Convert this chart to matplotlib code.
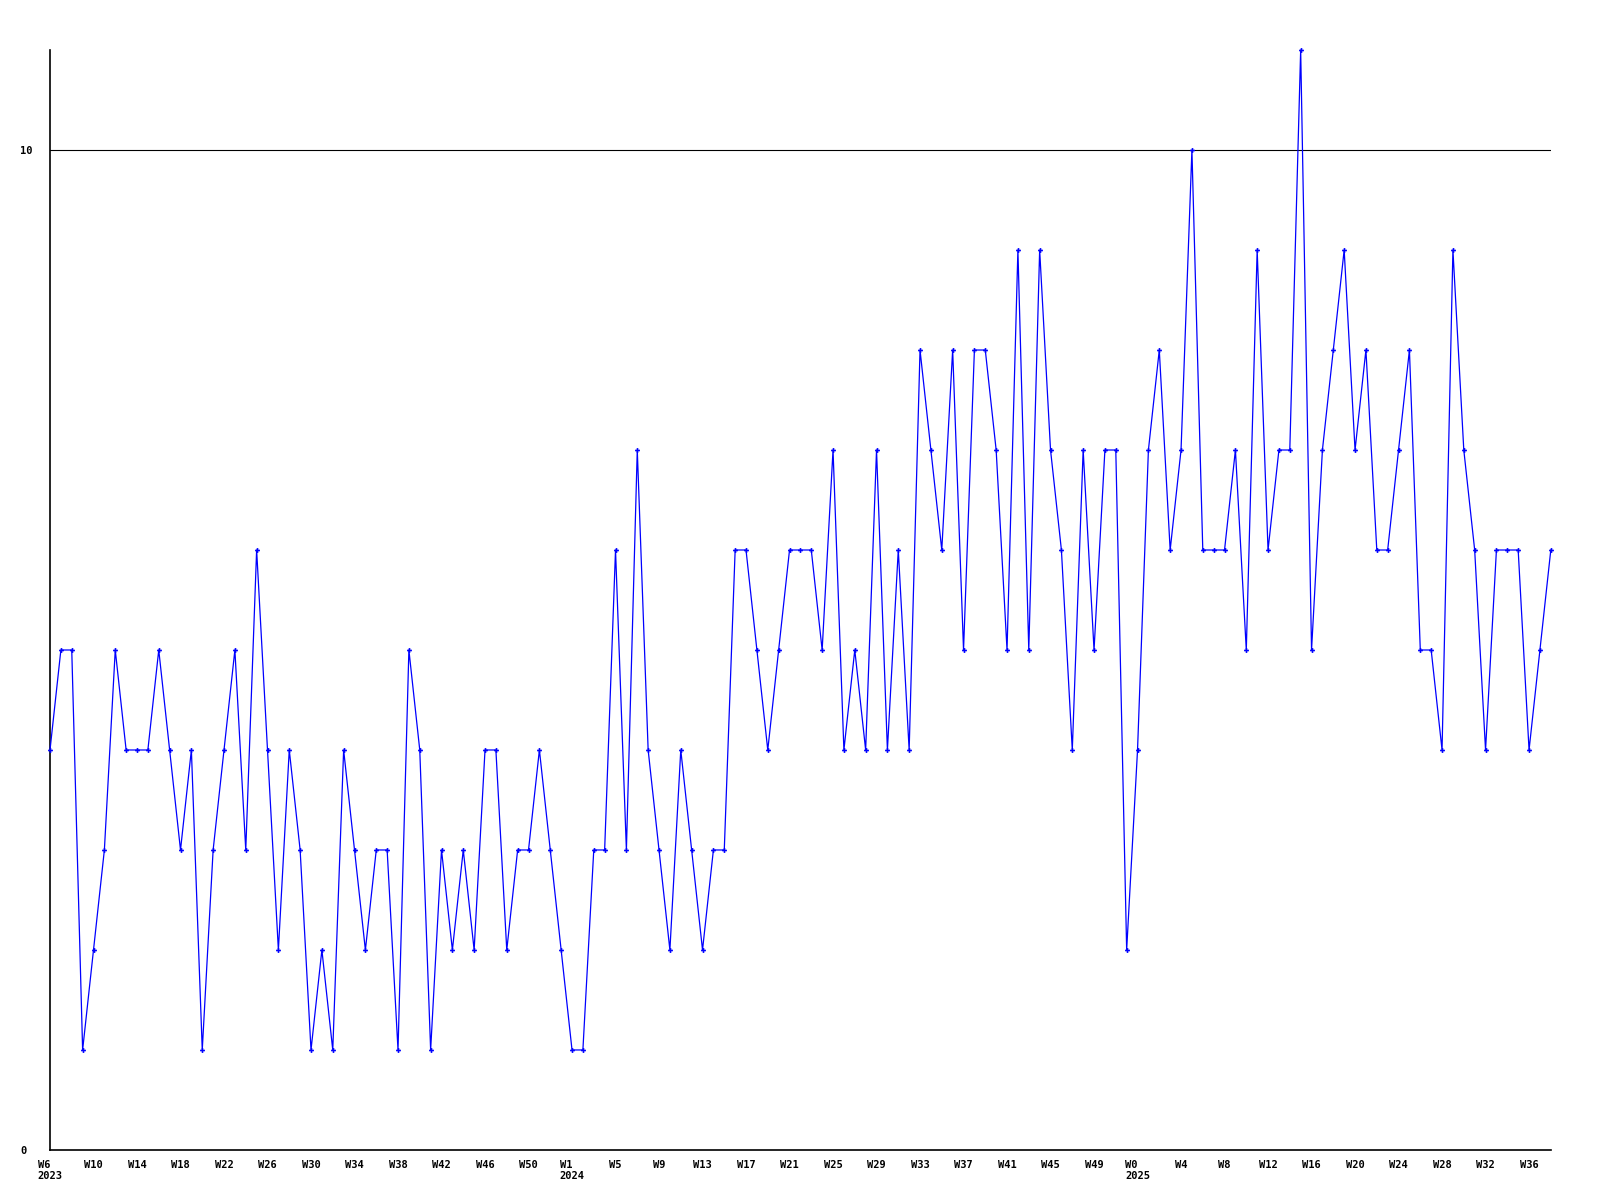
import numpy as np
import matplotlib
matplotlib.use('Agg')
import matplotlib.pyplot as plt

# weekly counts, W6 2023 .. W38 2025 (one value per point)
counts_2023 = [4, 5, 5, 1, 2, 3, 5, 4, 4, 4, 5, 4, 3, 4, 1, 3, 4, 5, 3, 6,
               4, 2, 4, 3, 1, 2, 1, 4, 3, 2, 3, 3, 1, 5, 4, 1, 3, 2, 3, 2,
               4, 4, 2, 3, 3, 4, 3, 2]
counts_2024 = [1, 1, 3, 3, 6, 3, 7, 4, 3, 2, 4, 3, 2, 3, 3, 6, 6, 5, 4, 5,
               6, 6, 6, 5, 7, 4, 5, 4, 7, 4, 6, 4, 8, 7, 6, 8, 5, 8, 8, 7,
               5, 9, 5, 9, 7, 6, 4, 7, 5, 7, 7]
counts_2025 = [2, 4, 7, 8, 6, 7, 10, 6, 6, 6, 7, 5, 9, 6, 7, 7, 11, 5, 7, 8,
               9, 7, 8, 6, 6, 7, 8, 5, 5, 4, 9, 7, 6, 4, 6, 6, 6, 4, 5, 6]
values = counts_2023 + counts_2024 + counts_2025

tick_labels = ['W6\n2023', 'W10', 'W14', 'W18', 'W22', 'W26', 'W30', 'W34',
               'W38', 'W42', 'W46', 'W50',
               'W1\n2024', 'W5', 'W9', 'W13', 'W17', 'W21', 'W25', 'W29',
               'W33', 'W37', 'W41', 'W45', 'W49',
               'W0\n2025', 'W4', 'W8', 'W12', 'W16', 'W20', 'W24', 'W28',
               'W32', 'W36']

x = np.arange(len(values))

fig = plt.figure(figsize=(16, 12), dpi=100)
ax = fig.add_axes([0.03125, 0.0417, 0.938, 0.9166])

ax.axhline(10, color='black', lw=0.8, zorder=1)
ax.plot(x, values, color='#0000ff', lw=0.9, marker='P', markersize=3.5,
        markeredgewidth=0, clip_on=False, zorder=3)

ax.set_xlim(0, len(values) - 1)
ax.set_ylim(0, 11)

ax.set_xticks(x[::4])
ax.set_xticklabels(tick_labels[:len(x[::4])], multialignment='left')
ax.set_yticks([0, 10])
ax.set_yticklabels(['0', '10'], ha='left')

for lab in ax.get_xticklabels() + ax.get_yticklabels():
    lab.set_fontfamily('DejaVu Sans Mono')
    lab.set_fontweight('bold')
    lab.set_fontsize(7.5)

ax.tick_params(axis='both', length=0)
ax.tick_params(axis='x', pad=7)
ax.tick_params(axis='y', pad=21.5)

for side in ['top', 'right']:
    ax.spines[side].set_visible(False)
ax.spines['left'].set_linewidth(1.2)
ax.spines['bottom'].set_linewidth(1.2)

fig.savefig('out.png', dpi=100, facecolor='white')
